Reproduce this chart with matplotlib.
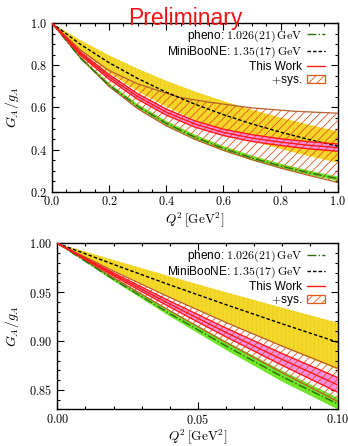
import numpy as np
import matplotlib
matplotlib.use("Agg")
import matplotlib.pyplot as plt
from matplotlib.patches import Patch
from matplotlib.lines import Line2D
from matplotlib.ticker import MultipleLocator, FuncFormatter

plt.rcParams['font.family'] = ['Liberation Sans', 'DejaVu Sans']
plt.rcParams['mathtext.fontset'] = 'cm'
plt.rcParams['hatch.linewidth'] = 0.6

# ---- top panel: Q^2 in [0, 1] ----
q2_top = [0.0, 0.1, 0.2, 0.3, 0.4, 0.5, 0.6, 0.7, 0.8, 0.9, 1.0]
pheno_top = [1.0, 0.834, 0.706, 0.6056, 0.525, 0.4596, 0.4057, 0.3607, 0.3228, 0.2906, 0.263]
pheno_top_lo = [1.0, 0.828, 0.697, 0.5945, 0.513, 0.4474, 0.3936, 0.3489, 0.3114, 0.2797, 0.2525]
pheno_top_hi = [1.0, 0.840, 0.715, 0.6164, 0.5367, 0.4716, 0.4176, 0.3724, 0.3342, 0.3015, 0.2734]
mb_top = [1.0, 0.8987, 0.812, 0.7373, 0.6724, 0.6158, 0.566, 0.522, 0.483, 0.448, 0.417]
mb_top_lo = [1.0, 0.8705, 0.7646, 0.6769, 0.6035, 0.5414, 0.4884, 0.4428, 0.4034, 0.3689, 0.3387]
mb_top_hi = [1.0, 0.9187, 0.847, 0.7834, 0.7266, 0.6758, 0.6302, 0.589, 0.5518, 0.5179, 0.4871]
tw_top = [1.0, 0.855, 0.745, 0.652, 0.578, 0.522, 0.482, 0.455, 0.436, 0.421, 0.41]
tw_top_lo = [1.0, 0.8475, 0.734, 0.639, 0.564, 0.507, 0.467, 0.439, 0.42, 0.404, 0.393]
tw_top_hi = [1.0, 0.8625, 0.756, 0.665, 0.592, 0.537, 0.497, 0.471, 0.452, 0.438, 0.427]
sys_top_lo = [1.0, 0.837, 0.700, 0.594, 0.513, 0.449, 0.397, 0.353, 0.313, 0.278, 0.245]
q2_sys_hi = [0.0, 0.1, 0.2, 0.3, 0.4, 0.45, 0.55, 0.7, 0.85, 1.0]
sys_top_hi = [1.0, 0.872, 0.775, 0.712, 0.668, 0.647, 0.625, 0.598, 0.582, 0.573]

# ---- bottom panel: Q^2 in [0, 0.1] ----
q2_bot = [0.0, 0.02, 0.04, 0.06, 0.08, 0.1]
pheno_bot = [1.0, 0.9631, 0.9281, 0.8951, 0.8637, 0.8355]
pheno_bot_lo = [1.0, 0.9615, 0.9253, 0.891, 0.8586, 0.830]
pheno_bot_hi = [1.0, 0.9648, 0.9314, 0.8998, 0.8698, 0.842]
mb_bot = [1.0, 0.9784, 0.9575, 0.9373, 0.9177, 0.8987]
mb_bot_lo = [1.0, 0.9719, 0.9449, 0.9191, 0.8943, 0.8705]
mb_bot_hi = [1.0, 0.9829, 0.9663, 0.95, 0.9342, 0.9187]
tw_bot = [1.0, 0.9682, 0.9379, 0.9089, 0.8813, 0.855]
tw_bot_lo = [1.0, 0.9667, 0.9349, 0.9044, 0.8753, 0.8475]
tw_bot_hi = [1.0, 0.9697, 0.9409, 0.9134, 0.8873, 0.8625]
sys_bot_lo = [1.0, 0.9648, 0.9311, 0.8987, 0.8677, 0.838]
sys_bot_hi = [1.0, 0.9716, 0.9447, 0.9191, 0.8949, 0.872]

YELLOW = '#f5d82c'
GREEN = '#72e62a'
DKGREEN = '#2d6e10'
PINK = '#f68ee2'
RED = '#ff1a1a'
HATCH = '#e2561e'
SYSEDGE = '#b8602e'


def draw(ax, q2, mb, mb_lo, mb_hi, ph, ph_lo, ph_hi, tw, tw_lo, tw_hi,
         s_lo, q2_s_hi, s_hi):
    ax.fill_between(q2, mb_lo, mb_hi, facecolor=YELLOW, edgecolor='#ecce1c',
                    hatch='||||', linewidth=0, zorder=1)
    ax.fill_between(q2, ph_lo, ph_hi, facecolor=GREEN, linewidth=0, zorder=2)
    ax.fill_between(q2, tw_lo, tw_hi, facecolor=PINK, linewidth=0, zorder=3)
    # systematic band as a polygon (upper edge has its own sampling)
    px = list(q2_s_hi) + list(q2[::-1])
    py = list(s_hi) + list(s_lo[::-1])
    ax.fill(px, py, facecolor='none', edgecolor=HATCH, hatch='////',
            linewidth=0, zorder=4)
    ax.plot(q2_s_hi, s_hi, color=SYSEDGE, lw=0.9, zorder=5)
    ax.plot(q2, s_lo, color=SYSEDGE, lw=0.9, zorder=5)
    ax.plot(q2, ph, color=DKGREEN, lw=1.0, ls='-.', zorder=6)
    ax.plot(q2, mb, color='black', lw=1.0, ls=(0, (2.5, 1.5)), zorder=6)
    for y in (tw_lo, tw, tw_hi):
        ax.plot(q2, y, color=RED, lw=1.0, zorder=7)

    ax.tick_params(which='both', direction='in', top=True, right=True,
                   labelsize=8.8, width=0.8)
    ax.tick_params(which='major', length=5)
    ax.tick_params(which='minor', length=2.5)
    ax.tick_params(axis='x', pad=2.5)
    for s in ax.spines.values():
        s.set_linewidth(1.0)

    handles = [
        Line2D([], [], color=DKGREEN, lw=1.0, ls='-.'),
        Line2D([], [], color='black', lw=1.0, ls=(0, (2.5, 1.5))),
        Line2D([], [], color=RED, lw=1.0),
        Patch(facecolor='white', edgecolor=HATCH, hatch='////', lw=0.9),
    ]
    labels = [r'pheno: $1.026(21)\,\mathrm{GeV}$',
              r'MiniBooNE: $1.35(17)\,\mathrm{GeV}$',
              'This Work', r'$+$sys.']
    ax.legend(handles, labels, loc='upper right', bbox_to_anchor=(0.955, 0.968),
              frameon=False, markerfirst=False, fontsize=8.6, handlelength=1.5,
              handleheight=0.7, handletextpad=0.4, labelspacing=0.08,
              borderpad=0, borderaxespad=0)
    ax.set_ylabel(r'$G_A/g_A$', fontsize=10)
    ax.set_xlabel(r'$Q^2\,[\mathrm{GeV}^2]$', fontsize=9.5)


fig = plt.figure(figsize=(3.48, 4.46), dpi=100)

ax1 = fig.add_axes([0.149, 0.5695, 0.822, 0.379])
draw(ax1, q2_top, mb_top, mb_top_lo, mb_top_hi, pheno_top, pheno_top_lo,
     pheno_top_hi, tw_top, tw_top_lo, tw_top_hi, sys_top_lo, q2_sys_hi, sys_top_hi)
ax1.set_xlim(0, 1.0)
ax1.set_ylim(0.2, 1.0)
ax1.xaxis.set_major_locator(MultipleLocator(0.2))
ax1.xaxis.set_minor_locator(MultipleLocator(0.05))
ax1.yaxis.set_major_locator(MultipleLocator(0.2))
ax1.yaxis.set_minor_locator(MultipleLocator(0.05))
fmt1 = FuncFormatter(lambda v, p: '$%.1f$' % v)
ax1.xaxis.set_major_formatter(fmt1)
ax1.yaxis.set_major_formatter(fmt1)
ax1.xaxis.set_label_coords(0.5, -0.11)
ax1.yaxis.set_label_coords(-0.108, 0.5)

ax2 = fig.add_axes([0.165, 0.082, 0.806, 0.3725])
draw(ax2, q2_bot, mb_bot, mb_bot_lo, mb_bot_hi, pheno_bot, pheno_bot_lo,
     pheno_bot_hi, tw_bot, tw_bot_lo, tw_bot_hi, sys_bot_lo, q2_bot, sys_bot_hi)
ax2.set_xlim(0, 0.1)
ax2.set_ylim(0.83, 1.0)
ax2.xaxis.set_major_locator(MultipleLocator(0.05))
ax2.xaxis.set_minor_locator(MultipleLocator(0.01))
ax2.yaxis.set_major_locator(MultipleLocator(0.05))
ax2.yaxis.set_minor_locator(MultipleLocator(0.01))
fmt2 = FuncFormatter(lambda v, p: '$%.2f$' % v)
ax2.xaxis.set_major_formatter(fmt2)
ax2.yaxis.set_major_formatter(fmt2)
ax2.xaxis.set_label_coords(0.5, -0.106)
ax2.yaxis.set_label_coords(-0.129, 0.5)

fig.text(0.532, 1 - 25.5 / 446, 'Preliminary', color='#f01414', fontsize=16.5,
         ha='center', va='baseline', zorder=10)

fig.savefig('out.png', dpi=100)
